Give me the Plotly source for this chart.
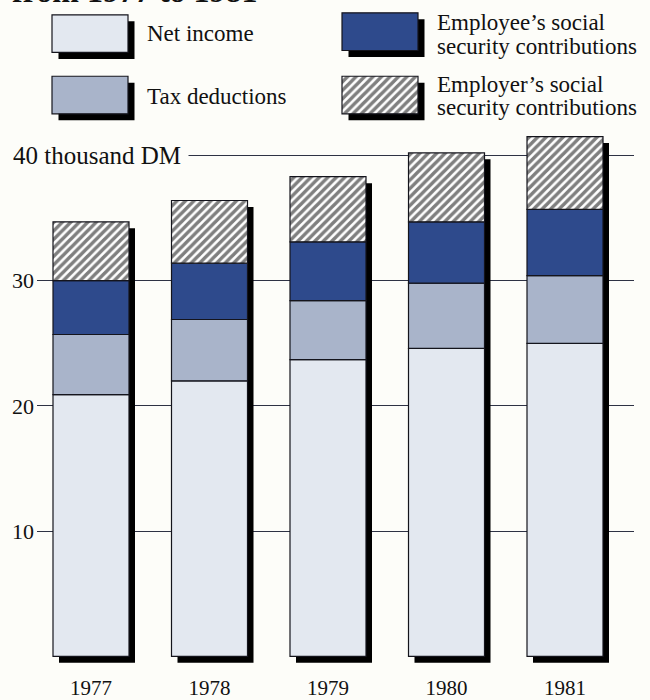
import plotly.graph_objects as go

# ---------------- data (thousand DM) ----------------
years = ["1977", "1978", "1979", "1980", "1981"]
net_income = [20.9, 22.0, 23.7, 24.6, 25.0]
tax_deductions = [4.8, 4.9, 4.7, 5.2, 5.4]
employee_ssc = [4.3, 4.5, 4.7, 4.9, 5.3]
employer_ssc = [4.7, 5.0, 5.2, 5.5, 5.8]

series_names = ["Net income", "Tax deductions",
                "Employee’s social security contributions",
                "Employer’s social security contributions"]
y_tick_vals = [10, 20, 30, 40]
y_tick_text = ["10", "20", "30", ""]
unit_label = "40 thousand DM"
top_title = "from 1977 to 1981"

# ---------------- styling ----------------
W, H = 650, 700
BG = "#FDFDF9"
C_NET = "#E3E8F0"
C_TAX = "#A9B4CA"
C_EMPLOYEE = "#2E4A8C"
EDGE = "#14141c"
GRID = "#2e3244"
FONT = "Liberation Serif"
HATCH = dict(shape="/", fgcolor="#000000", bgcolor="#FFFFFF", size=6, solidity=0.58)

# pixel geometry of the main plot area
PLOT_L, PLOT_R = 37, 634
PLOT_T, PLOT_B = 130, 673
Y0_PX = 663
PX_PER_UNIT = 12.65
CENTER0_PX, STEP_PX = 91, 118.5
BAR_PX = 76
SHADOW_DX_PX, SHADOW_DY_PX = 6, 6.5

x_lo = (PLOT_L - CENTER0_PX) / STEP_PX
x_hi = (PLOT_R - CENTER0_PX) / STEP_PX
y_lo = -(PLOT_B - Y0_PX) / PX_PER_UNIT
y_hi = (Y0_PX - PLOT_T) / PX_PER_UNIT
bar_w = BAR_PX / STEP_PX
sdx = SHADOW_DX_PX / STEP_PX
sdy = SHADOW_DY_PX / PX_PER_UNIT

xs = list(range(len(years)))
totals = [a + b + c + d for a, b, c, d in zip(net_income, tax_deductions, employee_ssc, employer_ssc)]

fig = go.Figure()

# shadows
fig.add_trace(go.Bar(
    x=[x + sdx for x in xs], y=totals, base=[-sdy] * len(xs), width=bar_w,
    marker=dict(color="#000000", line=dict(width=0)),
    showlegend=False, hoverinfo="skip"))

# stacked segments (explicit bases)
segments = [net_income, tax_deductions, employee_ssc, employer_ssc]
colors = [C_NET, C_TAX, C_EMPLOYEE, "#FFFFFF"]
base = [0.0] * len(xs)
for i, (vals, col) in enumerate(zip(segments, colors)):
    marker = dict(color=col, line=dict(color=EDGE, width=1.2))
    if i == 3:
        marker["pattern"] = HATCH
    fig.add_trace(go.Bar(x=xs, y=vals, base=list(base), width=bar_w,
                         marker=marker, name=series_names[i], showlegend=False))
    base = [b + v for b, v in zip(base, vals)]

# ---------------- legend drawn on a pixel axis ----------------
leg_cx = [90, 90, 380, 380]
leg_top = [15, 77, 13, 77]
leg_h = 38
for i in range(4):
    fig.add_trace(go.Bar(
        x=[leg_cx[i] + 6.5], y=[leg_h], base=[leg_top[i] + 6.5], width=BAR_PX,
        marker=dict(color="#000000", line=dict(width=0)),
        xaxis="x2", yaxis="y2", showlegend=False, hoverinfo="skip"))
    marker = dict(color=colors[i], line=dict(color=EDGE, width=1.2))
    if i == 3:
        marker["pattern"] = HATCH
    fig.add_trace(go.Bar(
        x=[leg_cx[i]], y=[leg_h], base=[leg_top[i]], width=BAR_PX,
        marker=marker, xaxis="x2", yaxis="y2", showlegend=False, hoverinfo="skip"))

legend_lines = [
    ("Net income", 146, 34),
    ("Tax deductions", 146, 97),
    ("Employee’s social", 436, 23),
    ("security contributions", 436, 47),
    ("Employer’s social", 436, 85),
    ("security contributions", 436, 109),
]
annotations = []
for txt, px, py in legend_lines:
    annotations.append(dict(text=txt, xref="paper", yref="paper",
                            x=px / W, y=1 - py / H, xanchor="left", yanchor="middle",
                            borderpad=0, showarrow=False,
                            font=dict(family=FONT, size=23, color="#111111")))

annotations.append(dict(text=unit_label, xref="paper", yref="y", x=12 / W, y=40,
                        xanchor="left", yanchor="middle", align="left", width=175,
                        borderpad=0, bgcolor=BG, showarrow=False,
                        font=dict(family=FONT, size=25, color="#111111")))

annotations.append(dict(text="<b>" + top_title + "</b>", xref="paper", yref="paper",
                        x=11 / W, y=1 - 10 / H, xanchor="left", yanchor="bottom",
                        borderpad=0, showarrow=False,
                        font=dict(family=FONT, size=32, color="#111111")))

fig.update_layout(
    width=W, height=H,
    margin=dict(l=0, r=0, t=0, b=0),
    paper_bgcolor=BG, plot_bgcolor=BG,
    barmode="overlay", showlegend=False,
    xaxis=dict(domain=[PLOT_L / W, PLOT_R / W], range=[x_lo, x_hi],
               tickvals=xs, ticktext=years, ticks="", showgrid=False,
               zeroline=False, showline=False, ticklabelstandoff=7,
               tickfont=dict(family=FONT, size=21, color="#111111")),
    yaxis=dict(domain=[1 - PLOT_B / H, 1 - PLOT_T / H], range=[y_lo, y_hi],
               tickvals=y_tick_vals, ticktext=y_tick_text, ticks="",
               showgrid=True, gridcolor=GRID, gridwidth=1.3,
               zeroline=False, showline=False, ticklabelstandoff=2,
               tickfont=dict(family=FONT, size=22, color="#111111")),
    xaxis2=dict(domain=[0, 1], range=[0, W], visible=False, anchor="y2"),
    yaxis2=dict(domain=[1 - PLOT_T / H, 1], range=[PLOT_T, 0], visible=False, anchor="x2"),
    annotations=annotations,
)

fig.write_html("out.html")
